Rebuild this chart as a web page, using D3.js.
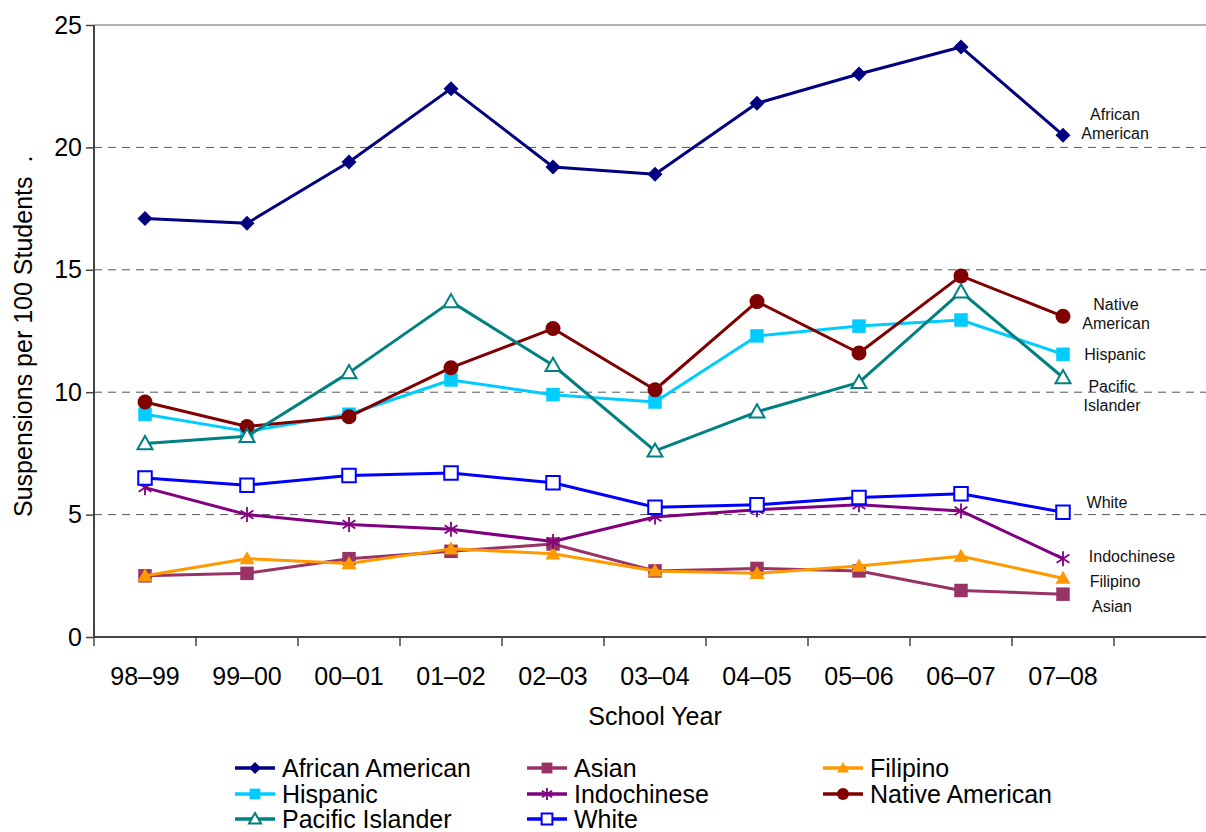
<!DOCTYPE html>
<html><head><meta charset="utf-8">
<script src="https://cdn.jsdelivr.net/npm/d3@7"></script>
<style>
body{margin:0;background:#fff;}
svg{display:block;font-family:"Liberation Sans",Arial,sans-serif;}
</style></head>
<body><svg id="c" width="1206" height="832"></svg>
<script>
const years = ["98–99","99–00","00–01","01–02","02–03","03–04","04–05","05–06","06–07","07–08"];
const yTicks = [0,5,10,15,20,25];
const seriesNames = ["African American","Asian","Filipino","Hispanic","Indochinese","Native American","Pacific Islander","White"];
const africanAmerican = [17.1,16.9,19.4,22.4,19.2,18.9,21.8,23.0,24.1,20.5];
const asian           = [2.5,2.6,3.2,3.5,3.8,2.7,2.8,2.7,1.9,1.75];
const filipino        = [2.5,3.2,3.0,3.6,3.4,2.7,2.6,2.9,3.3,2.4];
const hispanic        = [9.1,8.4,9.1,10.5,9.9,9.6,12.3,12.7,12.95,11.55];
const indochinese     = [6.1,5.0,4.6,4.4,3.9,4.9,5.2,5.4,5.15,3.2];
const nativeAmerican  = [9.6,8.6,9.0,11.0,12.6,10.1,13.7,11.6,14.75,13.1];
const pacificIslander = [7.9,8.2,10.8,13.7,11.1,7.6,9.2,10.4,14.1,10.6];
const white           = [6.5,6.2,6.6,6.7,6.3,5.3,5.4,5.7,5.85,5.1];
// end-of-line annotation labels and the value level they sit at
const endLabels = [
  {lines:["African","American"], v:20.95},
  {lines:["Native","American"], v:13.2},
  {lines:["Hispanic"], v:11.55},
  {lines:["Pacific","Islander"], v:9.85},
  {lines:["White"], v:5.5},
  {lines:["Indochinese"], v:3.3},
  {lines:["Filipino"], v:2.25},
  {lines:["Asian"], v:1.25}
];

const colors = ["#000080","#993366","#FF9900","#00CCFF","#800080","#800000","#008080","#0000FF"];
const markers = ["diamond","square","triangle","square","asterisk","circle","openTriangle","openSquare"];
const values = [africanAmerican,asian,filipino,hispanic,indochinese,nativeAmerican,pacificIslander,white];
const endDx = [0,1,0,-3,-8,17,0,-3];

const svg = d3.select("#c");
const L = 94, T = 25, B = 637, band = 102;
const x = d3.scaleBand().domain([...years, ""]).range([L, L + band*(years.length+1)]).padding(0);
const y = d3.scaleLinear().domain([0,25]).range([B, T]);
const FS = 25;

// gridlines
svg.append("g").selectAll("line").data(yTicks.filter(t=>t>0)).join("line")
  .attr("x1",L).attr("x2",1206).attr("y1",d=>y(d)).attr("y2",d=>y(d))
  .attr("stroke",d=>d===25?"#999":"#555").attr("stroke-width",d=>d===25?1.5:1)
  .attr("stroke-dasharray",d=>d===25?null:"8,6");

// axes
const yAxis = svg.append("g").attr("transform",`translate(${L},0)`)
  .call(d3.axisLeft(y).tickValues(yTicks).tickSize(8).tickPadding(4));
yAxis.select(".domain").attr("stroke","#444").attr("stroke-width",2).attr("d",`M0,${T}V${B}`);
yAxis.selectAll(".tick line").attr("stroke","#444").attr("stroke-width",1.5);
yAxis.selectAll("text").attr("font-size",FS).attr("fill","#000").attr("font-family","Liberation Sans, Arial, sans-serif");

const xAxis = svg.append("g").attr("transform",`translate(0,${B})`);
xAxis.append("line").attr("x1",L).attr("x2",1206).attr("stroke","#444").attr("stroke-width",2);
xAxis.selectAll("line.t").data(d3.range(years.length+2)).join("line").attr("class","t")
  .attr("x1",i=>L+i*x.bandwidth()).attr("x2",i=>L+i*x.bandwidth()).attr("y1",0).attr("y2",9)
  .attr("stroke","#444").attr("stroke-width",1.5);
xAxis.selectAll("text").data(years).join("text")
  .attr("x",d=>x(d)+x.bandwidth()/2).attr("y",48).attr("text-anchor","middle")
  .attr("font-size",FS).text(d=>d);

svg.append("text").attr("x",x(years[5])+x.bandwidth()/2).attr("y",725).attr("text-anchor","middle")
  .attr("font-size",FS).text("School Year");
svg.append("text").attr("transform",`translate(32,517) rotate(-90)`)
  .attr("text-anchor","start").attr("font-size",FS).style("white-space","pre")
  .text("Suspensions per 100 Students  .");

function markerPath(type, s){
  const h = s/2;
  switch(type){
    case "diamond": return `M0,${-h}L${h},0L0,${h}L${-h},0Z`;
    case "square": case "openSquare": return `M${-h*0.9},${-h*0.9}H${h*0.9}V${h*0.9}H${-h*0.9}Z`;
    case "triangle": case "openTriangle": return `M0,${-h}L${h},${h*0.75}L${-h},${h*0.75}Z`;
    case "circle": return d3.symbol(d3.symbolCircle, Math.PI*h*h)();
    case "asterisk": return `M0,${-h}V${h}M${-h*0.85},${-h*0.55}L${h*0.85},${h*0.55}M${-h*0.85},${h*0.55}L${h*0.85},${-h*0.55}`;
  }
}
function drawMarker(g, type, color, s){
  const p = g.append("path").attr("d", markerPath(type, s));
  if(type==="asterisk") p.attr("fill","none").attr("stroke",color).attr("stroke-width",1.8);
  else if(type.startsWith("open")) p.attr("fill","#fff").attr("stroke",color).attr("stroke-width",2);
  else p.attr("fill",color);
}

const line = d3.line().x((d,i)=>x(years[i])+x.bandwidth()/2).y(d=>y(d));
const plot = svg.append("g");
seriesNames.forEach((name,k)=>{
  const g = plot.append("g");
  g.append("path").datum(values[k]).attr("d",line).attr("fill","none")
    .attr("stroke",colors[k]).attr("stroke-width",3).attr("stroke-linejoin","round");
  values[k].forEach((v,i)=>{
    const m = g.append("g").attr("transform",`translate(${x(years[i])+x.bandwidth()/2},${y(v)})`);
    drawMarker(m, markers[k], colors[k], 15);
  });
});

// end labels
const lx = x("");
endLabels.forEach((lab,k)=>{
  const t = svg.append("text").attr("text-anchor","middle").attr("font-size",16).attr("fill","#111");
  const n = lab.lines.length;
  lab.lines.forEach((ln,j)=>{
    t.append("tspan").attr("x",lx+1+endDx[k]).attr("y",y(lab.v) + 5.5 + (j-(n-1)/2)*19).text(ln);
  });
});

// legend
const legCols = [235,527,823], legRows = [768,794,819];
seriesNames.forEach((name,k)=>{
  const cx = legCols[k%3], cy = legRows[Math.floor(k/3)];
  const g = svg.append("g").attr("transform",`translate(${cx},${cy})`);
  g.append("line").attr("x1",0).attr("x2",40).attr("stroke",colors[k]).attr("stroke-width",3.5);
  const m = g.append("g").attr("transform","translate(20,0)");
  drawMarker(m, markers[k], colors[k], 12);
  g.append("text").attr("x",47).attr("y",9).attr("font-size",FS).text(name);
});
</script></body></html>
